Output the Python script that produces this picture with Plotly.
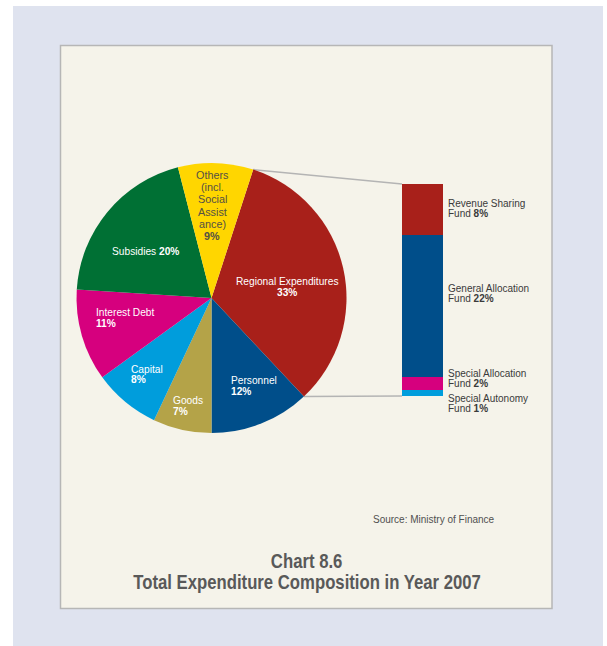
import math
import plotly.graph_objects as go

# ---------------- data ----------------
pie_labels = ["Regional Expenditures", "Personnel", "Goods", "Capital",
              "Interest Debt", "Subsidies", "Others (incl. Social Assistance)"]
pie_values = [33, 12, 7, 8, 11, 20, 9]
pie_colors = ["#a8201a", "#004e8a", "#b4a348", "#009ddc",
              "#d6007e", "#007034", "#ffd600"]

bar_labels = ["Special Autonomy Fund", "Special Allocation Fund",
              "General Allocation Fund", "Revenue Sharing Fund"]
bar_values = [1, 2, 22, 8]
bar_colors = ["#009ddc", "#d6007e", "#004e8a", "#a8201a"]

source_text = "Source: Ministry of Finance"
title_line1 = "Chart 8.6"
title_line2 = "Total Expenditure Composition in Year 2007"

# ---------------- layout helpers ----------------
W, H = 607, 646
def px(x):
    return x / W
def py(y):
    return 1 - y / H

FONT = "Liberation Sans, Arial, Helvetica, sans-serif"

# pie geometry (pixels)
cx, cy, R = 211.5, 298.0, 135.0
rotation = 18
# bar geometry (pixels)
bx0, bx1, by_top, by_bot = 402, 443, 184, 396

fig = go.Figure()

fig.add_trace(go.Pie(
    labels=pie_labels, values=pie_values, sort=False, direction="clockwise",
    rotation=rotation, textinfo="none", hoverinfo="label+percent",
    marker=dict(colors=pie_colors, line=dict(width=0)),
    domain=dict(x=[px(cx - R), px(cx + R)], y=[py(cy + R), py(cy - R)]),
    showlegend=False,
))

for lab, val, col in zip(bar_labels, bar_values, bar_colors):
    fig.add_trace(go.Bar(x=[0], y=[val], name=lab, width=1,
                         marker=dict(color=col, line=dict(width=0)),
                         showlegend=False))

total = sum(pie_values)
reg_share = pie_values[0] / total
a0 = math.radians(rotation)
a1 = math.radians(rotation + 360 * reg_share)
p0 = (cx + R * math.sin(a0), cy - R * math.cos(a0))
p1 = (cx + R * math.sin(a1), cy - R * math.cos(a1))

shapes = [
    dict(type="rect", xref="paper", yref="paper", x0=px(13), x1=px(603),
         y0=py(646), y1=py(6), fillcolor="#dfe3ef", line=dict(width=0), layer="below"),
    dict(type="rect", xref="paper", yref="paper", x0=px(60.5), x1=px(552),
         y0=py(608.5), y1=py(45.5), fillcolor="#f5f3ea",
         line=dict(color="#b6b6b6", width=1.5), layer="below"),
    dict(type="line", xref="paper", yref="paper", x0=px(p0[0]), y0=py(p0[1]),
         x1=px(bx0), y1=py(by_top), line=dict(color="#b4b4b4", width=1.5), layer="below"),
    dict(type="line", xref="paper", yref="paper", x0=px(p1[0]), y0=py(p1[1]),
         x1=px(bx0), y1=py(by_bot), line=dict(color="#b4b4b4", width=1.5), layer="below"),
]

ann = []
def text(x, y, s, size=10, color="#333333", anchor="left", family=FONT):
    ann.append(dict(x=px(x), y=py(y), xref="paper", yref="paper", text=s,
                    showarrow=False, xanchor=anchor, yanchor="middle",
                    font=dict(family=family, size=size, color=color)))
    return len(ann) - 1

def pct(v):
    return f"<b>{v}%</b>"

WHITE = "#ffffff"
# pie labels
text(287, 281, "Regional Expenditures", 10.2, WHITE, "center")
text(287, 292, pct(pie_values[0]), 10.2, WHITE, "center")
text(228.5, 380, "Personnel", 10.2, WHITE)
text(228.5, 391, pct(pie_values[1]), 10.2, WHITE)
text(170.5, 400, "Goods", 10.2, WHITE)
text(170.5, 411, pct(pie_values[2]), 10.2, WHITE)
text(129, 369, "Capital", 10.2, WHITE)
text(129, 379.5, pct(pie_values[3]), 10.2, WHITE)
text(93.5, 312.5, "Interest Debt", 10.2, WHITE)
text(93.5, 323.5, pct(pie_values[4]), 10.2, WHITE)
text(145, 251, "Subsidies " + pct(pie_values[5]), 10.2, WHITE, "center")
others_lines = ["Others", "(incl.", "Social", "Assist", "ance)", pct(pie_values[6])]
for i, s in enumerate(others_lines):
    text(212, 175 + i * 12.2, s, 10.8, "#545045", "center")

# bar labels (top to bottom)
bar_text_pos = {"Revenue Sharing Fund": (203, 213, "Revenue Sharing"),
                "General Allocation Fund": (288.5, 298.5, "General Allocation"),
                "Special Allocation Fund": (373, 383, "Special Allocation"),
                "Special Autonomy Fund": (398, 408, "Special Autonomy")}
for lab, val in zip(bar_labels, bar_values):
    y1, y2, first = bar_text_pos[lab]
    text(446, y1, first, 10, "#3a3a3a")
    text(446, y2, "Fund " + pct(val), 10, "#3a3a3a")

text(497, 519.5, source_text, 10, "#505050", "right")
t1 = text(306.5, 560.5, "<b>" + title_line1 + "</b>", 20.4, "#595959", "center")
t2 = text(306.5, 581.5, "<b>" + title_line2 + "</b>", 20.4, "#595959", "center")

fig.update_layout(
    width=W, height=H, margin=dict(l=0, r=0, t=0, b=0, pad=0),
    paper_bgcolor="#ffffff", plot_bgcolor="rgba(0,0,0,0)",
    barmode="stack", bargap=0,
    xaxis=dict(domain=[px(bx0), px(bx1)], range=[-0.5, 0.5], visible=False, fixedrange=True),
    yaxis=dict(domain=[py(by_bot), py(by_top)], range=[0, sum(bar_values)], visible=False, fixedrange=True),
    shapes=shapes, annotations=ann,
)

# condensed look for the title (no narrow font installed): squeeze horizontally
post = """
var gd = document.getElementById('{plot_id}');
function squeeze(){
  [%d, %d].forEach(function(i){
    var t = gd.querySelector('g.annotation[data-index="' + i + '"] text.annotation-text');
    if (t) { t.style.transformBox = 'fill-box'; t.style.transformOrigin = 'center';
             t.style.transform = 'scaleX(0.82)'; }
  });
}
squeeze();
gd.on && gd.on('plotly_afterplot', squeeze);
""" % (t1, t2)

fig.write_html("out.html", post_script=post)
